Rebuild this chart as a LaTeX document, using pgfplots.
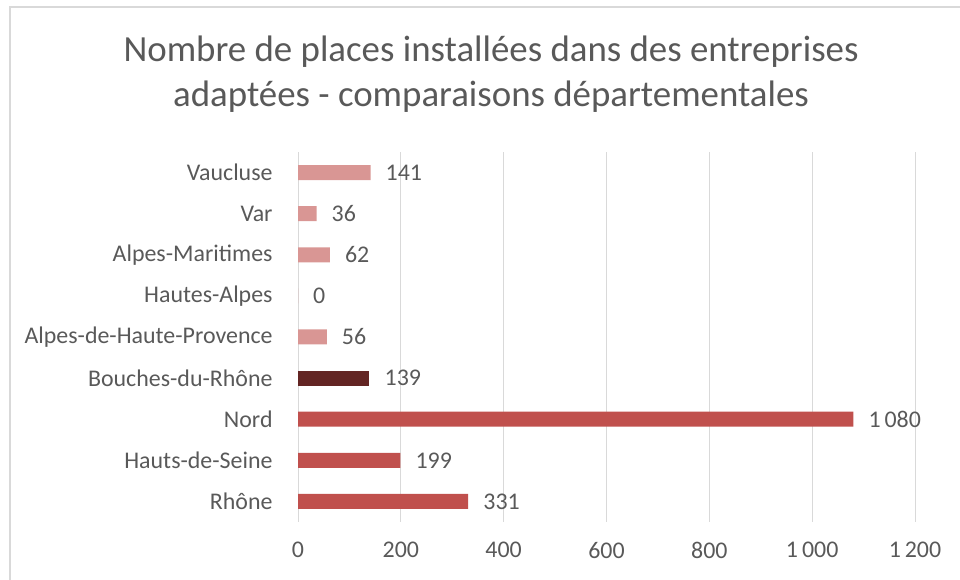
\documentclass[border=0pt]{standalone}
\usepackage{pgfplots}
\pgfplotsset{compat=1.18}
\usepackage{fontspec}
\setmainfont{Carlito}
\definecolor{txt}{HTML}{595959}
\definecolor{barmain}{HTML}{C0504D}
\definecolor{bardark}{HTML}{632523}
\definecolor{barlight}{HTML}{D99694}
\definecolor{gridc}{HTML}{D9D9D9}
\begin{document}
\begin{tikzpicture}[x=1bp,y=1bp]
\path[use as bounding box] (0,0) rectangle (960,580);
\draw[color=gridc, line width=2bp] (10,0) -- (10,573) -- (960,573);
\node[text=txt, font=\fontsize{37}{45}\selectfont, align=center] at (491,505.5) {Nombre de places installées dans des entreprises\\adaptées - comparaisons départementales};
\begin{axis}[
  at={(298bp,58bp)}, anchor=south west, scale only axis,
  width=617bp, height=370bp,
  xmin=0, xmax=1200, ymin=-0.5, ymax=8.5,
  xbar, bar width=15bp, bar shift=0pt,
  axis line style={draw=none},
  xtick={0,200,...,1200},
  ytick={0,...,8},
  yticklabels={Rhône, Hauts-de-Seine, Nord, Bouches-du-Rhône, Alpes-de-Haute-Provence, Hautes-Alpes, Alpes-Maritimes, Var, Vaucluse},
  xmajorgrids, major grid style={draw=gridc, line width=1bp},
  tick style={draw=none},
  ticklabel style={font=\fontsize{24}{28}\selectfont, text=txt},
  yticklabel style={anchor=east, inner sep=0pt, xshift=-21bp},
  xticklabel style={anchor=north, inner sep=0pt, yshift=-20bp},
  /pgf/number format/assume math mode=true,
  /pgf/number format/1000 sep={\,},
  point meta=x,
  nodes near coords,
  nodes near coords style={anchor=west, inner sep=0pt, xshift=15bp, font=\fontsize{24}{28}\selectfont, text=txt},
]
\addplot[fill=barmain, draw=none] coordinates {(331,0) (199,1) (1080,2)};
\addplot[fill=bardark, draw=none] coordinates {(139,3)};
\addplot[fill=barlight, draw=none] coordinates {(56,4) (0,5) (62,6) (36,7) (141,8)};
\end{axis}
\end{tikzpicture}
\end{document}
